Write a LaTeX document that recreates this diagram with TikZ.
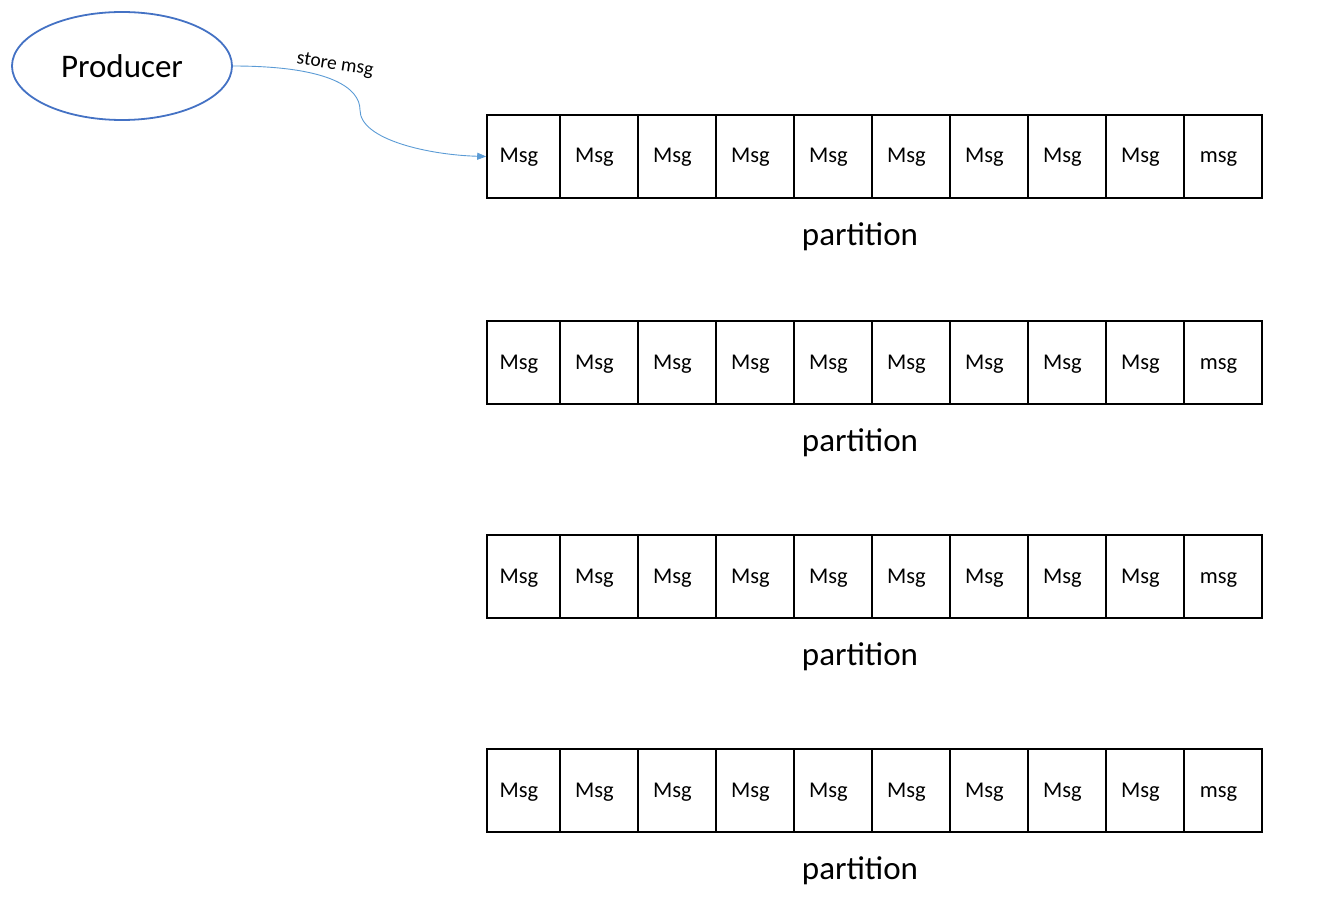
\documentclass[tikz,border=0pt]{standalone}
\usepackage{fontspec}
\setmainfont{Carlito}
\usetikzlibrary{arrows.meta,shapes.geometric}
\definecolor{prodblue}{HTML}{4472C4}
\definecolor{arrowblue}{HTML}{5B9BD5}

\begin{document}
\begin{tikzpicture}[x=1pt, y=-1pt, >={Triangle[length=9pt,width=7pt]},
    cell/.style={draw, line width=1.6pt, minimum height=83pt, inner sep=0pt,
        text height=16pt, text depth=3pt, execute at begin node={\hspace*{-9pt}},
        font=\fontsize{22.5}{25}\selectfont},
    partlabel/.style={font=\fontsize{33}{36}\selectfont}]
    \useasboundingbox (0,0) rectangle (1322,904);
    \node[ellipse, draw=prodblue, line width=1.8pt, minimum width=220pt, minimum height=108pt,
          font=\fontsize{33}{36}\selectfont] (prod) at (122,66) {Producer};
    % the four partitions
    \foreach \top [count=\r] in {115,321,535,749} {
        \node[cell, minimum width=73pt] (c-\r-1) at (523.5,{\top+41.5}) {Msg};
        \foreach \i in {2,...,10}
            \node[cell, minimum width=78pt] (c-\r-\i) at ({599+78*(\i-2)},{\top+41.5})
                {\ifnum\i=10 msg\else Msg\fi};
        \node[partlabel] (p-\r) at (860,{\top+122}) {partition};
    }
    \draw[->, arrowblue, line width=0.9pt] (prod.east) .. controls (330,66) and (360,88) .. (360,110)
        .. controls (360,140) and (430,155) .. (c-1-1.west);
    \node[rotate=-9, font=\fontsize{19.5}{22}\selectfont] (store) at (335,65) {store msg};
\end{tikzpicture}
\end{document}
